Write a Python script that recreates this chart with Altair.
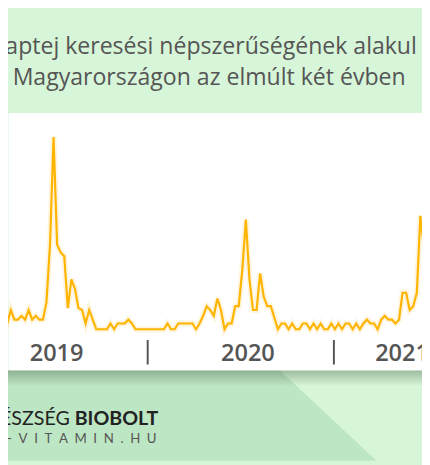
import altair as alt
import pandas as pd

# ---- data (weekly search popularity, 0-100) ----
first_week = "2019-03-17"
popularity = [3, 5, 3, 10, 5, 5, 7, 5, 10, 5, 7, 5, 5,
              14, 44, 100, 44, 40, 38, 11, 26, 21, 11, 10, 3, 10, 5,
              0, 0, 0, 0,
              3, 0, 3, 3, 3, 5, 3, 0,
              0, 0, 0, 0, 0, 0, 0, 0,
              3, 0, 0, 3, 3, 3, 3, 3, 0, 3,
              7, 12, 10, 7, 16, 10, 0, 3, 3, 12, 12,
              31, 57, 26, 10, 10, 29, 17, 12, 12, 6, 0,
              3, 3, 0, 3, 0, 0, 3, 3, 0, 3, 0, 3, 0, 0, 3, 0, 3, 0, 3, 3, 0, 3, 0, 3,
              5, 3, 3, 0, 5, 7, 5, 5, 3, 5, 19, 19, 10, 12, 19, 59, 42]
year_labels = ["2019", "2020", "2021"]
year_label_dates = ["2019-07-06T00:00:00", "2020-07-16T00:00:00", "2021-05-15T00:00:00"]
year_boundaries = ["2020-01-01T00:00:00", "2021-01-01T00:00:00"]
title_lines = ["aptej keresési népszerűségének alakul", "Magyarországon az elmúlt két évben"]
logo_regular = "ÉSZSÉG"
logo_bold = "BIOBOLT"
logo_url = "-\u2002V\u2002I\u2002T\u2002A\u2002M\u2002I\u2002N\u2002.\u2002H\u2002U"

weeks = pd.date_range(first_week, periods=len(popularity), freq="7D").strftime("%Y-%m-%dT00:00:00")
df = pd.DataFrame({"week": weeks, "value": popularity})
df_years = pd.DataFrame({"date": year_label_dates, "label": year_labels})
df_bounds = pd.DataFrame({"date": year_boundaries})
one = pd.DataFrame({"k": [0]})

W, H = 422, 263
GREEN_BG = "#d7f5d8"
GREEN_BAND = "#bde6c4"
TEXT = "#555555"
LINE = "#FFB400"

xscale = alt.Scale(domain=[alt.DateTime(year=2019, month=4, date=1, hours=10, minutes=20),
                           alt.DateTime(year=2021, month=6, date=23, hours=5)])
yscale = alt.Scale(domain=[-21.4, 112.8], nice=False, zero=False)

# decorative bottom band with diagonal lighter part
band = alt.Chart(one).mark_rect(
    fill=alt.Gradient(gradient="linear", x1=0, y1=1, x2=1, y2=0.767,
                      stops=[alt.GradientStop(color=GREEN_BAND, offset=0),
                             alt.GradientStop(color=GREEN_BAND, offset=0.843),
                             alt.GradientStop(color=GREEN_BG, offset=0.845),
                             alt.GradientStop(color=GREEN_BG, offset=1)])
).encode(x=alt.value(0), x2=alt.value(W), y=alt.value(H), y2=alt.value(H + 92))

shadow = alt.Chart(one).mark_rect(
    fill=alt.Gradient(gradient="linear", x1=0, y1=0, x2=0, y2=1,
                      stops=[alt.GradientStop(color="rgba(50,80,55,0.35)", offset=0),
                             alt.GradientStop(color="rgba(50,80,55,0)", offset=1)])
).encode(x=alt.value(0), x2=alt.value(W), y=alt.value(H), y2=alt.value(H + 16))

x_axis = alt.Axis(title=None, labels=False, grid=False, domainColor="#e2e2e2",
                  tickColor="#e2e2e2", tickSize=4, domainWidth=1,
                  tickCount=alt.TimeIntervalStep(interval="month", step=1),
                  position=221)

glow = alt.Chart(df).mark_line(color=LINE, strokeWidth=6, opacity=0.13, clip=True).encode(
    x=alt.X("week:T", scale=xscale, axis=None),
    y=alt.Y("value:Q", scale=yscale, axis=None),
)
line = alt.Chart(df).mark_line(color=LINE, strokeWidth=2.2, clip=True).encode(
    x=alt.X("week:T", scale=xscale, axis=x_axis),
    y=alt.Y("value:Q", scale=yscale, axis=None),
)

seps = alt.Chart(df_bounds).mark_rule(color=TEXT, strokeWidth=2).encode(
    x=alt.X("date:T", scale=xscale, axis=None),
    y=alt.value(232), y2=alt.value(257),
)

years = alt.Chart(df_years).mark_text(font="Open Sans", fontSize=24, fontWeight=600,
                                      color=TEXT, baseline="alphabetic", align="center").encode(
    x=alt.X("date:T", scale=xscale, axis=None),
    y=alt.value(253),
    text="label:N",
)

title1 = alt.Chart(one).mark_text(text=title_lines[0], font="Open Sans", fontSize=23.5,
                                  fontWeight=500, color=TEXT, align="center",
                                  baseline="alphabetic").encode(
    x=alt.value(207), y=alt.value(-60))
title2 = alt.Chart(one).mark_text(text=title_lines[1], font="Open Sans", fontSize=23.5,
                                  fontWeight=500, color=TEXT, align="center",
                                  baseline="alphabetic").encode(
    x=alt.value(205), y=alt.value(-28))

logo1 = alt.Chart(one).mark_text(text=logo_regular, font="Lato", fontSize=20, color="#222222",
                                 align="right", baseline="alphabetic").encode(
    x=alt.value(63), y=alt.value(319))
logo2 = alt.Chart(one).mark_text(text=logo_bold, font="Lato", fontSize=20, fontWeight="bold",
                                 color="#222222", align="left", baseline="alphabetic").encode(
    x=alt.value(68), y=alt.value(319))
logo3 = alt.Chart(one).mark_text(text=logo_url, font="Lato", fontSize=13.5, color=TEXT,
                                 align="left", baseline="alphabetic").encode(
    x=alt.value(-1), y=alt.value(337))

chart = alt.layer(band, shadow, glow, line, seps, years, title1, title2, logo1, logo2, logo3).properties(
    width=W, height=H,
    padding={"left": 0, "top": 102, "right": 0, "bottom": 92},
    autosize=alt.AutoSizeParams(type="none"),
    background=GREEN_BG,
).configure_view(fill="#ffffff", stroke="transparent")

chart.save("out.html", embed_options={"renderer": "svg", "actions": False})
